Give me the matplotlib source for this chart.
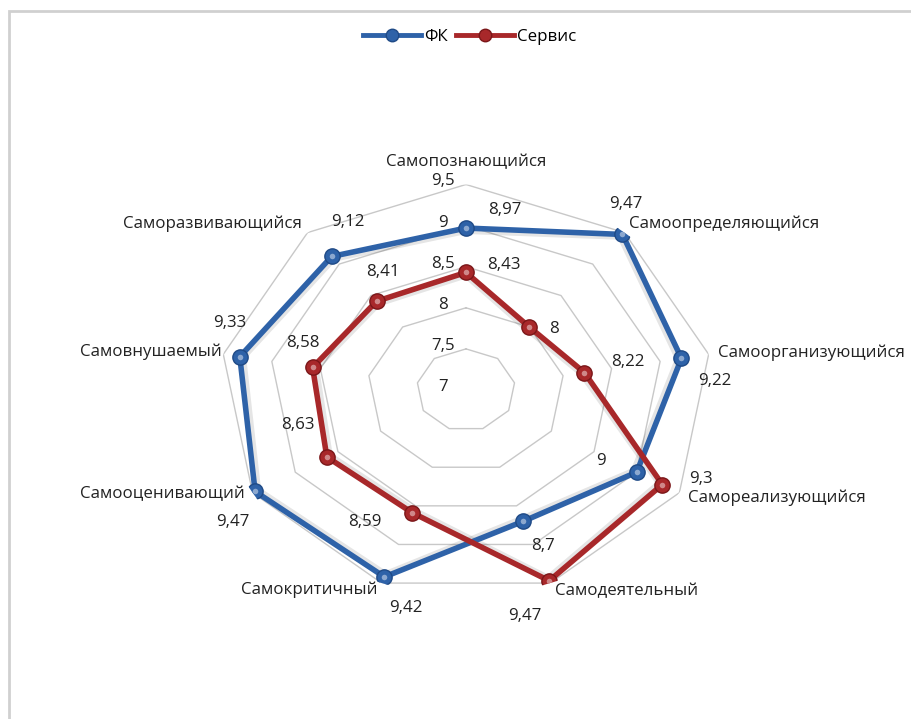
import matplotlib.pyplot as plt
import numpy as np
from matplotlib.lines import Line2D
from matplotlib.patches import Rectangle

plt.rcParams['font.family'] = ['Open Sans', 'DejaVu Sans']

categories = ['Самопознающийся', 'Самоопределяющийся', 'Самоорганизующийся',
              'Самореализующийся', 'Самодеятельный', 'Самокритичный',
              'Самооценивающий', 'Самовнушаемый', 'Саморазвивающийся']
fk = [8.97, 9.47, 9.22, 9.0, 8.7, 9.42, 9.47, 9.33, 9.12]
service = [8.43, 8.0, 8.22, 9.3, 9.47, 8.59, 8.63, 8.58, 8.41]
ticks = [7, 7.5, 8, 8.5, 9, 9.5]

# label offsets in pixels (dx, dy), dy upwards
fk_off = [(39, 18), (3, 30), (33, -23), (-36, 11), (20, -25),
          (21, -31), (-22, -31), (-10, 34), (16, 34)]
sv_off = [(38, 7), (25, -2), (43, 11), (39, 6), (-24, -35),
          (-48, -9), (-29, 32), (-10, 24), (6, 29)]
cat_off = [(0, 22, 'center'), (5, 9, 'left'), (9, 2, 'left'), (9, -5, 'left'),
           (5, -8, 'left'), (-4, -7, 'right'), (-8, -1, 'right'),
           (-2, 3, 'right'), (-6, 9, 'right')]

blue = '#2E62A8'
blue_dark = '#1F4A86'
red = '#A8282A'
red_dark = '#7A1618'
fs = 12.2

n = len(categories)
theta = np.linspace(0, 2 * np.pi, n, endpoint=False)
th_closed = np.append(theta, theta[0])


def fmt(v):
    s = f'{v:g}'
    return s.replace('.', ',')


fig = plt.figure(figsize=(9.11, 7.19), dpi=100)
fig.patches.append(Rectangle((9 / 911, -0.1), 1.0, 1 - 11 / 719 + 0.1,
                             transform=fig.transFigure, fill=False,
                             edgecolor='#D0D0D0', linewidth=2))

ax = fig.add_axes([0.241, 0.1718, 0.541, 0.5716], projection='polar')
ax.set_aspect('auto')
ax.set_theta_zero_location('N')
ax.set_theta_direction(-1)
ax.set_ylim(7, 9.5)
ax.grid(False)
ax.set_xticks([])
ax.set_yticks([])
ax.spines['polar'].set_visible(False)
ax.patch.set_alpha(0)

# polygon grid
for t in ticks[1:]:
    ax.plot(th_closed, [t] * (n + 1), color='#C8C8C8', lw=1, zorder=1)
for t in ticks:
    ax.annotate(fmt(t), (0, t), xytext=(-23, 3), textcoords='offset pixels',
                ha='center', va='center', fontsize=fs, color='#222222')

for vals, c, cd in [(fk, blue, blue_dark), (service, red, red_dark)]:
    v = np.append(vals, vals[0])
    # soft shadow under the line
    ax.plot(th_closed, v - 0.03, color='#000000', alpha=0.1, lw=5, zorder=2)
    ax.plot(th_closed, v, color=c, lw=4, zorder=3, solid_joinstyle='round')
    ax.plot(theta, vals, 'o', ms=11, color=c, mec=cd, mew=1, zorder=4)
    ax.plot(theta, vals, 'o', ms=4, color='white', alpha=0.45, zorder=5,
            markeredgewidth=0)

for i in range(n):
    ax.annotate(fmt(fk[i]), (theta[i], fk[i]), xytext=fk_off[i],
                textcoords='offset pixels', ha='center', va='center',
                fontsize=fs, color='#222222')
    ax.annotate(fmt(service[i]), (theta[i], service[i]), xytext=sv_off[i],
                textcoords='offset pixels', ha='center', va='center',
                fontsize=fs, color='#222222')
    dx, dy, ha = cat_off[i]
    ax.annotate(categories[i], (theta[i], 9.5), xytext=(dx, dy),
                textcoords='offset pixels', ha=ha, va='center',
                fontsize=fs, color='#222222')

handles = [Line2D([], [], color=blue, lw=3.5, marker='o', ms=9, mec=blue_dark),
           Line2D([], [], color=red, lw=3.5, marker='o', ms=9, mec=red_dark)]
fig.legend(handles, ['ФК', 'Сервис'], loc='center', bbox_to_anchor=(470 / 911, 1 - 37 / 719),
           ncol=2, frameon=False, fontsize=fs, handlelength=3.4,
           handletextpad=0.2, columnspacing=0.5)

fig.savefig('out.png', dpi=100)
